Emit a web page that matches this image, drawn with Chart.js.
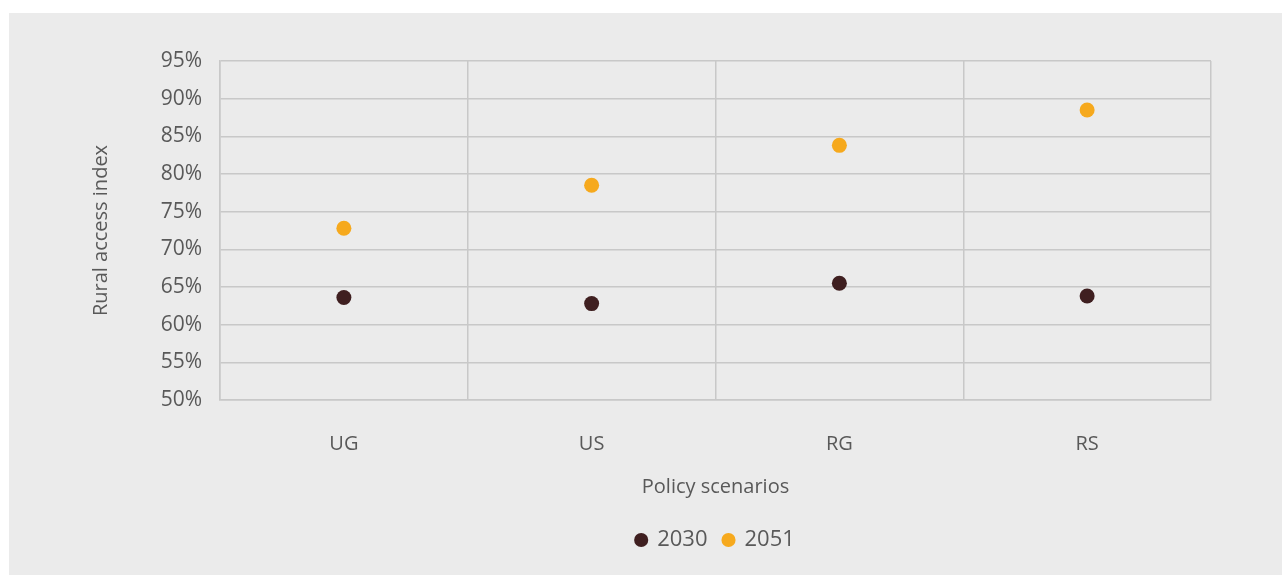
<!DOCTYPE html>
<html>
<head>
<meta charset="utf-8">
<script src="https://cdn.jsdelivr.net/npm/chart.js@4.4.1/dist/chart.umd.min.js"></script>
<style>
  html, body { margin: 0; padding: 0; background: #ffffff; width: 1282px; height: 575px; overflow: hidden; }
  #wrap { position: absolute; left: 9px; top: 13px; width: 1273px; height: 562px; background: #ebebeb; }
  canvas { display: block; }
</style>
</head>
<body>
<div id="wrap"><canvas id="c" width="1273" height="562"></canvas></div>
<script>
const categories = ['UG', 'US', 'RG', 'RS'];
const series2030 = [63.6, 62.8, 65.5, 63.8];
const series2051 = [72.8, 78.5, 83.8, 88.5];
const seriesNames = ['2030', '2051'];
const colors = ['#3f1f20', '#f6a91d'];
const yTitle = 'Rural access index';
const xTitle = 'Policy scenarios';

const FONT = '"Open Sans", Lato, sans-serif';
const TXT = '#595959';
const GRID = '#c8c8c8';

new Chart(document.getElementById('c'), {
  type: 'line',
  data: {
    labels: categories,
    datasets: [
      { label: seriesNames[0], data: series2030, backgroundColor: colors[0], borderColor: colors[0], pointBackgroundColor: colors[0], pointBorderWidth: 0, pointRadius: 7.5, pointHoverRadius: 7.5, showLine: false },
      { label: seriesNames[1], data: series2051, backgroundColor: colors[1], borderColor: colors[1], pointBackgroundColor: colors[1], pointBorderWidth: 0, pointRadius: 7.5, pointHoverRadius: 7.5, showLine: false }
    ]
  },
  options: {
    responsive: false,
    animation: false,
    devicePixelRatio: 1,
    layout: { padding: { top: 48, right: 71, left: 80, bottom: 14 } },
    plugins: {
      tooltip: { enabled: false },
      legend: {
        position: 'bottom',
        fullSize: false,
        labels: {
          usePointStyle: true,
          pointStyle: 'circle',
          boxWidth: 10,
          boxHeight: 10,
          padding: 16,
          color: TXT,
          font: { family: FONT, size: 22 }
        }
      }
    },
    scales: {
      x: {
        type: 'category',
        offset: true,
        grid: { offset: true, color: GRID, lineWidth: 1.5, drawTicks: false },
        border: { color: GRID, width: 1.5 },
        ticks: { color: TXT, font: { family: FONT, size: 20 }, padding: 32 },
        title: { display: true, text: xTitle, color: TXT, font: { family: FONT, size: 20 }, padding: { top: 20, bottom: 14 } },
        afterFit(s) { s.height = 113; }
      },
      y: {
        min: 50, max: 95,
        grid: { color: GRID, lineWidth: 1.5, drawTicks: false },
        border: { color: GRID, width: 1.5 },
        ticks: { stepSize: 5, color: TXT, font: { family: FONT, size: 21 }, padding: 18, callback: v => v + '%' },
        title: { display: true, text: yTitle, color: TXT, font: { family: FONT, size: 20 }, padding: 0 },
        afterFit(s) { s.width = 131; }
      }
    }
  }
});
</script>
</body>
</html>
